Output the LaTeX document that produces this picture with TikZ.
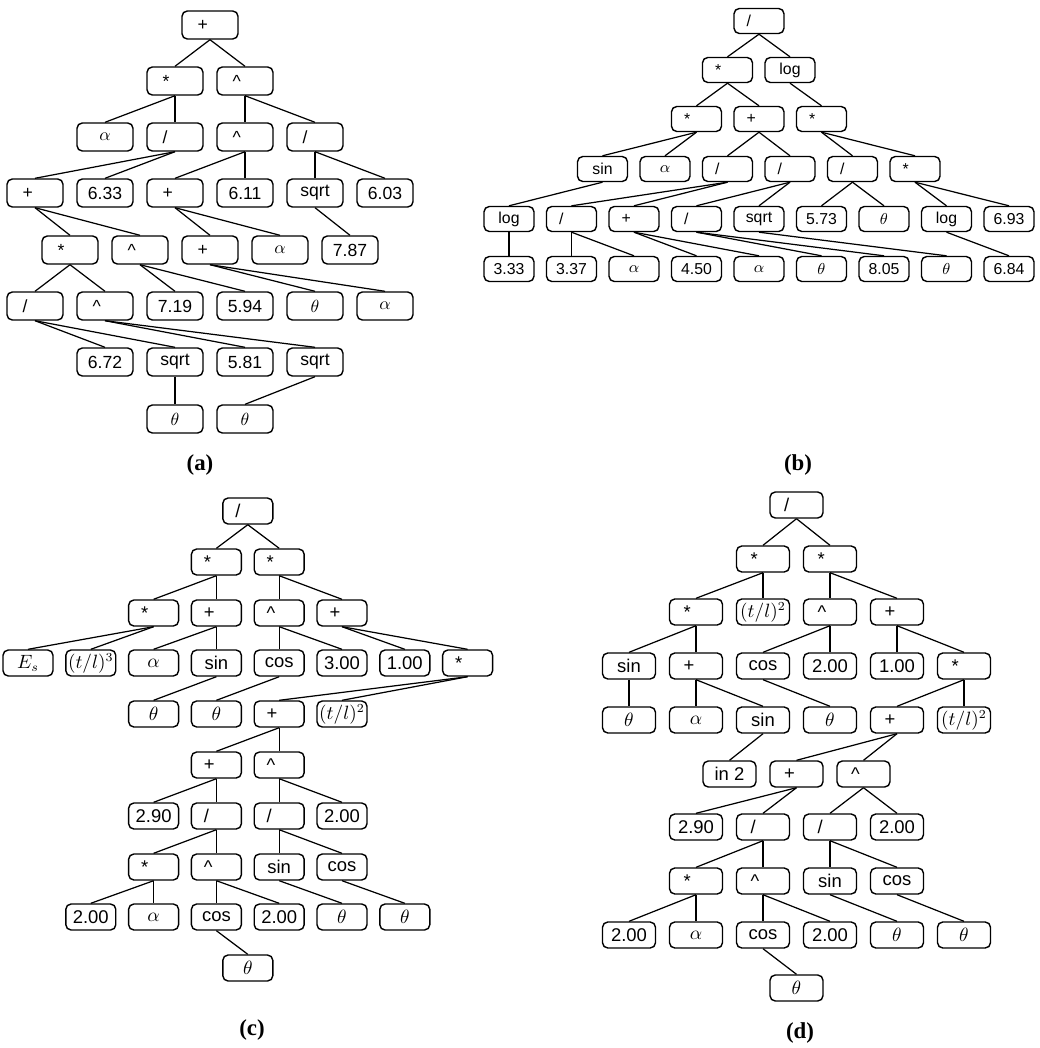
\documentclass[tikz,border=0pt]{standalone}
\usepackage{fontspec}
\setmainfont{Liberation Serif}
\setsansfont{Liberation Sans}
\usepackage{tikz}

\tikzset{
  tbox/.style={draw, line width=0.8pt, rounded corners=3pt, inner sep=1pt},
  tedge/.style={line width=0.7pt},
  sublabel/.style={font=\bfseries\fontsize{13}{15}\selectfont}
}
\newcommand{\opl}[1]{\makebox[0.5cm][l]{#1}}
\newcommand{\crt}{\textasciicircum}

\begin{document}
\begin{tikzpicture}[x=0.02cm, y=-0.02cm]
  \useasboundingbox (0,0) rectangle (1040,1048);

  % tree (a)
  \begin{scope}[tbox/.append style={minimum width=1.12cm, minimum height=0.56cm, font=\sffamily\fontsize{10}{12}\selectfont}]
    \node[tbox] (a0) at (210,25) {\opl{+}};
    \node[tbox] (a1) at (175,81) {\opl{*}};
    \node[tbox] (a2) at (245,81) {\opl{\crt}};
    \node[tbox] (a3) at (105,137) {$\alpha$};
    \node[tbox] (a4) at (175,137) {\opl{/}};
    \node[tbox] (a5) at (245,137) {\opl{\crt}};
    \node[tbox] (a6) at (315,137) {\opl{/}};
    \node[tbox] (a7) at (35,193) {\opl{+}};
    \node[tbox] (a8) at (105,193) {6.33};
    \node[tbox] (a9) at (175,193) {\opl{+}};
    \node[tbox] (a10) at (245,193) {6.11};
    \node[tbox] (a11) at (315,193) {sqrt};
    \node[tbox] (a12) at (385,193) {6.03};
    \node[tbox] (a13) at (70,250) {\opl{*}};
    \node[tbox] (a14) at (140,250) {\opl{\crt}};
    \node[tbox] (a15) at (210,250) {\opl{+}};
    \node[tbox] (a16) at (280,250) {$\alpha$};
    \node[tbox] (a17) at (350,250) {7.87};
    \node[tbox] (a18) at (35,306) {\opl{/}};
    \node[tbox] (a19) at (105,306) {\opl{\crt}};
    \node[tbox] (a20) at (175,306) {7.19};
    \node[tbox] (a21) at (245,306) {5.94};
    \node[tbox] (a22) at (315,306) {$\theta$};
    \node[tbox] (a23) at (385,306) {$\alpha$};
    \node[tbox] (a24) at (105,362) {6.72};
    \node[tbox] (a25) at (175,362) {sqrt};
    \node[tbox] (a26) at (245,362) {5.81};
    \node[tbox] (a27) at (315,362) {sqrt};
    \node[tbox] (a28) at (175,419) {$\theta$};
    \node[tbox] (a29) at (245,419) {$\theta$};
  \end{scope}
  \foreach \p/\c in {0/1,0/2,1/3,1/4,2/5,2/6,4/7,4/8,5/9,5/10,6/11,6/12,7/13,7/14,9/15,9/16,11/17,
                     13/18,13/19,14/20,14/21,15/22,15/23,18/24,18/25,19/26,19/27,25/28,27/29}
    \draw[tedge] (a\p.south) -- (a\c.north);
  \node[sublabel] (capa) at (200,465) {(a)};

  % tree (b)
  \begin{scope}[tbox/.append style={minimum width=1.0cm, minimum height=0.5cm, font=\sffamily\fontsize{9}{11}\selectfont}]
    \node[tbox] (b0) at (759,21) {\opl{/}};
    \node[tbox] (b1) at (727.5,70) {\opl{*}};
    \node[tbox] (b2) at (790,70) {log};
    \node[tbox] (b3) at (696.5,119) {\opl{*}};
    \node[tbox] (b4) at (759,119) {\opl{+}};
    \node[tbox] (b5) at (821.5,119) {\opl{*}};
    \node[tbox] (b6) at (602.5,169) {sin};
    \node[tbox] (b7) at (665,169) {$\alpha$};
    \node[tbox] (b8) at (727.5,169) {\opl{/}};
    \node[tbox] (b9) at (790,169) {\opl{/}};
    \node[tbox] (b10) at (852.5,169) {\opl{/}};
    \node[tbox] (b11) at (915,169) {\opl{*}};
    \node[tbox] (b12) at (509,219) {log};
    \node[tbox] (b13) at (571.5,219) {\opl{/}};
    \node[tbox] (b14) at (634,219) {\opl{+}};
    \node[tbox] (b15) at (696.5,219) {\opl{/}};
    \node[tbox] (b16) at (759,219) {sqrt};
    \node[tbox] (b17) at (821.5,219) {5.73};
    \node[tbox] (b18) at (884,219) {$\theta$};
    \node[tbox] (b19) at (946.5,219) {log};
    \node[tbox] (b20) at (1009,219) {6.93};
    \node[tbox] (b21) at (509,269) {3.33};
    \node[tbox] (b22) at (571.5,269) {3.37};
    \node[tbox] (b23) at (634,269) {$\alpha$};
    \node[tbox] (b24) at (696.5,269) {4.50};
    \node[tbox] (b25) at (759,269) {$\alpha$};
    \node[tbox] (b26) at (821.5,269) {$\theta$};
    \node[tbox] (b27) at (884,269) {8.05};
    \node[tbox] (b28) at (946.5,269) {$\theta$};
    \node[tbox] (b29) at (1009,269) {6.84};
  \end{scope}
  \foreach \p/\c in {0/1,0/2,1/3,1/4,2/5,3/6,3/7,4/8,4/9,5/10,5/11,6/12,8/13,8/14,9/15,9/16,10/17,10/18,
                     11/19,11/20,12/21,13/22,13/23,14/24,14/25,15/26,15/27,16/28,19/29}
    \draw[tedge] (b\p.south) -- (b\c.north);
  \node[sublabel] (capb) at (798,465) {(b)};

  % tree (c)
  \begin{scope}[tbox/.append style={minimum width=1.0cm, minimum height=0.52cm, font=\sffamily\fontsize{10.5}{12}\selectfont}]
    \node[tbox] (c0) at (247.8,511) {\opl{/}};
    \node[tbox] (c1) at (216.4,562) {\opl{*}};
    \node[tbox] (c2) at (279.2,562) {\opl{*}};
    \node[tbox] (c3) at (153.6,613) {\opl{*}};
    \node[tbox] (c4) at (216.4,613) {\opl{+}};
    \node[tbox] (c5) at (279.2,613) {\opl{\crt}};
    \node[tbox] (c6) at (342,613) {\opl{+}};
    \node[tbox] (c7) at (28,663) {$E_s$};
    \node[tbox] (c8) at (90.8,663) {$(t/l)^3$};
    \node[tbox] (c9) at (153.6,663) {$\alpha$};
    \node[tbox] (c10) at (216.4,663) {sin};
    \node[tbox] (c11) at (279.2,663) {cos};
    \node[tbox] (c12) at (342,663) {3.00};
    \node[tbox] (c13) at (404.8,663) {1.00};
    \node[tbox] (c14) at (467.6,663) {\opl{*}};
    \node[tbox] (c15) at (153.6,714) {$\theta$};
    \node[tbox] (c16) at (216.4,714) {$\theta$};
    \node[tbox] (c17) at (279.2,714) {\opl{+}};
    \node[tbox] (c18) at (342,714) {$(t/l)^2$};
    \node[tbox] (c19) at (216.4,765) {\opl{+}};
    \node[tbox] (c20) at (279.2,765) {\opl{\crt}};
    \node[tbox] (c21) at (153.6,816) {2.90};
    \node[tbox] (c22) at (216.4,816) {\opl{/}};
    \node[tbox] (c23) at (279.2,816) {\opl{/}};
    \node[tbox] (c24) at (342,816) {2.00};
    \node[tbox] (c25) at (153.6,867) {\opl{*}};
    \node[tbox] (c26) at (216.4,867) {\opl{\crt}};
    \node[tbox] (c27) at (279.2,867) {sin};
    \node[tbox] (c28) at (342,867) {cos};
    \node[tbox] (c29) at (90.8,917) {2.00};
    \node[tbox] (c30) at (153.6,917) {$\alpha$};
    \node[tbox] (c31) at (216.4,917) {cos};
    \node[tbox] (c32) at (279.2,917) {2.00};
    \node[tbox] (c33) at (342,917) {$\theta$};
    \node[tbox] (c34) at (404.8,917) {$\theta$};
    \node[tbox] (c35) at (247.8,968) {$\theta$};
  \end{scope}
  \foreach \p/\c in {0/1,0/2,1/3,1/4,2/5,2/6,3/7,3/8,4/9,4/10,5/11,5/12,6/13,6/14,10/15,11/16,14/17,14/18,
                     17/19,17/20,19/21,19/22,20/23,20/24,22/25,22/26,23/27,23/28,25/29,25/30,26/31,26/32,
                     27/33,28/34,31/35}
    \draw[tedge] (c\p.south) -- (c\c.north);
  \node[sublabel] (capc) at (252,1030) {(c)};

  % tree (d)
  \begin{scope}[tbox/.append style={minimum width=1.06cm, minimum height=0.52cm, font=\sffamily\fontsize{10.5}{12}\selectfont}]
    \node[tbox] (d0) at (796.5,505) {\opl{/}};
    \node[tbox] (d1) at (763,559) {\opl{*}};
    \node[tbox] (d2) at (830,559) {\opl{*}};
    \node[tbox] (d3) at (696,612) {\opl{*}};
    \node[tbox] (d4) at (763,612) {$(t/l)^2$};
    \node[tbox] (d5) at (830,612) {\opl{\crt}};
    \node[tbox] (d6) at (897,612) {\opl{+}};
    \node[tbox] (d7) at (629,666) {sin};
    \node[tbox] (d8) at (696,666) {\opl{+}};
    \node[tbox] (d9) at (763,666) {cos};
    \node[tbox] (d10) at (830,666) {2.00};
    \node[tbox] (d11) at (897,666) {1.00};
    \node[tbox] (d12) at (964,666) {\opl{*}};
    \node[tbox] (d13) at (629,720) {$\theta$};
    \node[tbox] (d14) at (696,720) {$\alpha$};
    \node[tbox] (d15) at (763,720) {sin};
    \node[tbox] (d16) at (830,720) {$\theta$};
    \node[tbox] (d17) at (897,720) {\opl{+}};
    \node[tbox] (d18) at (964,720) {$(t/l)^2$};
    \node[tbox] (d19) at (729.5,774) {in 2};
    \node[tbox] (d20) at (796.5,774) {\opl{+}};
    \node[tbox] (d21) at (863.5,774) {\opl{\crt}};
    \node[tbox] (d22) at (696,827) {2.90};
    \node[tbox] (d23) at (763,827) {\opl{/}};
    \node[tbox] (d24) at (830,827) {\opl{/}};
    \node[tbox] (d25) at (897,827) {2.00};
    \node[tbox] (d26) at (696,881) {\opl{*}};
    \node[tbox] (d27) at (763,881) {\opl{\crt}};
    \node[tbox] (d28) at (830,881) {sin};
    \node[tbox] (d29) at (897,881) {cos};
    \node[tbox] (d30) at (629,935) {2.00};
    \node[tbox] (d31) at (696,935) {$\alpha$};
    \node[tbox] (d32) at (763,935) {cos};
    \node[tbox] (d33) at (830,935) {2.00};
    \node[tbox] (d34) at (897,935) {$\theta$};
    \node[tbox] (d35) at (964,935) {$\theta$};
    \node[tbox] (d36) at (796.5,988) {$\theta$};
  \end{scope}
  \foreach \p/\c in {0/1,0/2,1/3,1/4,2/5,2/6,3/7,3/8,5/9,5/10,6/11,6/12,7/13,8/14,8/15,9/16,12/17,12/18,
                     15/19,17/20,17/21,20/22,20/23,21/24,21/25,23/26,23/27,24/28,24/29,26/30,26/31,
                     27/32,27/33,28/34,29/35,32/36}
    \draw[tedge] (d\p.south) -- (d\c.north);
  \node[sublabel] (capd) at (800,1033) {(d)};
\end{tikzpicture}
\end{document}
